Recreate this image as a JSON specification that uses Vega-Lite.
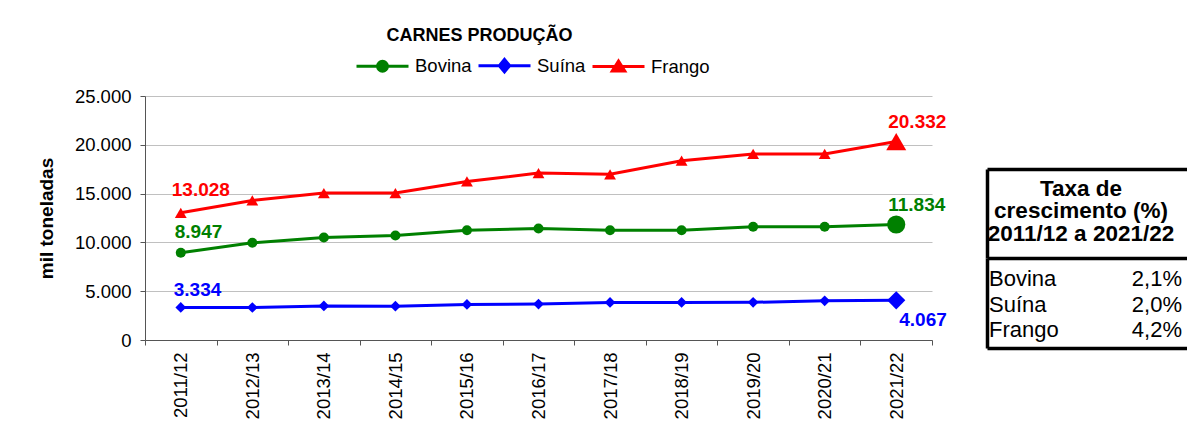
{
  "$schema": "https://vega.github.io/schema/vega-lite/v6.json",
  "padding": {"left": 37, "top": 27, "right": 0, "bottom": 0},
  "spacing": 55,
  "bounds": "flush",
  "hconcat": [
    {
      "width": 787,
      "height": 244,
      "view": {"stroke": null},
      "title": {"text": "CARNES PRODUÇÃO", "fontSize": 18, "fontWeight": "bold", "color": "#000", "anchor": "middle", "frame": "group", "dx": -59, "offset": 42},
      "data": {"values": [
        {"ano": "2011/12", "serie": "Bovina", "valor": 8947},
        {"ano": "2012/13", "serie": "Bovina", "valor": 9960},
        {"ano": "2013/14", "serie": "Bovina", "valor": 10500},
        {"ano": "2014/15", "serie": "Bovina", "valor": 10700},
        {"ano": "2015/16", "serie": "Bovina", "valor": 11250},
        {"ano": "2016/17", "serie": "Bovina", "valor": 11430},
        {"ano": "2017/18", "serie": "Bovina", "valor": 11250},
        {"ano": "2018/19", "serie": "Bovina", "valor": 11250},
        {"ano": "2019/20", "serie": "Bovina", "valor": 11600},
        {"ano": "2020/21", "serie": "Bovina", "valor": 11600},
        {"ano": "2021/22", "serie": "Bovina", "valor": 11834},
        {"ano": "2011/12", "serie": "Suína", "valor": 3334},
        {"ano": "2012/13", "serie": "Suína", "valor": 3330},
        {"ano": "2013/14", "serie": "Suína", "valor": 3490},
        {"ano": "2014/15", "serie": "Suína", "valor": 3470},
        {"ano": "2015/16", "serie": "Suína", "valor": 3650},
        {"ano": "2016/17", "serie": "Suína", "valor": 3680},
        {"ano": "2017/18", "serie": "Suína", "valor": 3850},
        {"ano": "2018/19", "serie": "Suína", "valor": 3850},
        {"ano": "2019/20", "serie": "Suína", "valor": 3860},
        {"ano": "2020/21", "serie": "Suína", "valor": 4020},
        {"ano": "2021/22", "serie": "Suína", "valor": 4067},
        {"ano": "2011/12", "serie": "Frango", "valor": 13028},
        {"ano": "2012/13", "serie": "Frango", "valor": 14300},
        {"ano": "2013/14", "serie": "Frango", "valor": 15060},
        {"ano": "2014/15", "serie": "Frango", "valor": 15060},
        {"ano": "2015/16", "serie": "Frango", "valor": 16250},
        {"ano": "2016/17", "serie": "Frango", "valor": 17100},
        {"ano": "2017/18", "serie": "Frango", "valor": 16980},
        {"ano": "2018/19", "serie": "Frango", "valor": 18370},
        {"ano": "2019/20", "serie": "Frango", "valor": 19060},
        {"ano": "2020/21", "serie": "Frango", "valor": 19060},
        {"ano": "2021/22", "serie": "Frango", "valor": 20332}
      ]},
      "encoding": {
        "x": {
          "field": "ano", "type": "ordinal", "sort": null,
          "scale": {"type": "band", "paddingInner": 0, "paddingOuter": 0},
          "axis": {"title": null, "labelAngle": 270, "labelFontSize": 18.5, "labelColor": "#000", "tickBand": "extent", "tickSize": 5, "labelPadding": 7, "domainColor": "#555", "tickColor": "#555", "grid": false}
        },
        "y": {
          "field": "valor", "type": "quantitative",
          "scale": {"domain": [0, 25000]},
          "axis": {"values": [0, 5000, 10000, 15000, 20000, 25000], "format": ",.0f", "title": "mil toneladas", "titleFontSize": 19, "titleFontWeight": "bold", "titleColor": "#000", "titlePadding": 18, "labelFontSize": 18.5, "labelColor": "#000", "labelPadding": 9, "tickSize": 5, "tickColor": "#555", "domainColor": "#555", "gridColor": "#c0c0c0", "grid": true}
        },
        "color": {
          "field": "serie", "type": "nominal",
          "scale": {"domain": ["Bovina", "Suína", "Frango"], "range": ["#008000", "#0000ff", "#ff0000"]},
          "legend": null
        }
      },
      "layer": [
        {
          "mark": {"type": "line", "strokeWidth": 3},
          "encoding": {
            "color": {
              "field": "serie", "type": "nominal",
              "scale": {"domain": ["Bovina", "Suína", "Frango"], "range": ["#008000", "#0000ff", "#ff0000"]},
              "legend": {
                "orient": "none", "legendX": 210, "legendY": -58, "padding": 0,
                "direction": "horizontal", "title": null,
                "labelFontSize": 18.5, "labelColor": "#000",
                "symbolSize": 2704, "symbolStrokeWidth": 3,
                "labelOffset": 5, "columnPadding": 0,
                "encode": {"symbols": {"update": {
                  "shape": {"signal": "datum.value === 'Bovina' ? 'M-1,0H1M0.19,0A0.19,0.19,0,1,1,-0.19,0A0.19,0.19,0,1,1,0.19,0Z' : datum.value === 'Frango' ? 'M-1,0H1M0,-0.21L0.24,0.17L-0.24,0.17Z' : 'M-1,0H1M0,-0.24L0.2,0L0,0.24L-0.2,0Z'"},
                  "fill": {"scale": "color", "field": "value"},
                  "stroke": {"scale": "color", "field": "value"},
                  "opacity": {"value": 1}
                }}}
              }
            }
          }
        },
        {
          "transform": [{"filter": "datum.serie === 'Bovina'"}],
          "mark": {"type": "point", "filled": true, "shape": "circle", "opacity": 1},
          "encoding": {"size": {"condition": {"test": "datum.ano === '2021/22'", "value": 330}, "value": 100}}
        },
        {
          "transform": [{"filter": "datum.serie === 'Suína'"}],
          "mark": {"type": "point", "filled": true, "shape": "diamond", "opacity": 1},
          "encoding": {"size": {"condition": {"test": "datum.ano === '2021/22'", "value": 330}, "value": 115}}
        },
        {
          "transform": [{"filter": "datum.serie === 'Frango'"}],
          "mark": {"type": "point", "filled": true, "shape": "triangle-up", "opacity": 1},
          "encoding": {"size": {"condition": {"test": "datum.ano === '2021/22'", "value": 400}, "value": 140}}
        },
        {
          "transform": [{"filter": "datum.ano === '2011/12' && datum.serie === 'Frango'"}],
          "mark": {"type": "text", "align": "left", "baseline": "alphabetic", "dx": -9, "dy": -17, "fontSize": 19, "fontWeight": "bold"},
          "encoding": {"text": {"field": "valor", "format": ",.0f"}}
        },
        {
          "transform": [{"filter": "datum.ano === '2011/12' && datum.serie === 'Bovina'"}],
          "mark": {"type": "text", "align": "left", "baseline": "alphabetic", "dx": -6, "dy": -15, "fontSize": 19, "fontWeight": "bold"},
          "encoding": {"text": {"field": "valor", "format": ",.0f"}}
        },
        {
          "transform": [{"filter": "datum.ano === '2011/12' && datum.serie === 'Suína'"}],
          "mark": {"type": "text", "align": "left", "baseline": "alphabetic", "dx": -7, "dy": -11, "fontSize": 19, "fontWeight": "bold"},
          "encoding": {"text": {"field": "valor", "format": ",.0f"}}
        },
        {
          "transform": [{"filter": "datum.ano === '2021/22' && datum.serie !== 'Suína'"}],
          "mark": {"type": "text", "align": "left", "baseline": "alphabetic", "dx": -8, "dy": -14, "fontSize": 19, "fontWeight": "bold"},
          "encoding": {"text": {"field": "valor", "format": ",.0f"}}
        },
        {
          "transform": [{"filter": "datum.ano === '2021/22' && datum.serie === 'Suína'"}],
          "mark": {"type": "text", "align": "left", "baseline": "alphabetic", "dx": 3, "dy": 26, "fontSize": 19, "fontWeight": "bold"},
          "encoding": {"text": {"field": "valor", "format": ",.0f"}}
        }
      ]
    },
    {
      "vconcat": [
        {
          "width": 200,
          "height": 73,
          "view": {"stroke": null},
          "data": {"values": [{}]},
          "mark": {"type": "text"},
          "encoding": {}
        },
        {
          "width": 200,
          "height": 89,
          "view": {"stroke": null},
          "data": {"values": [{"cabecalho": ["Taxa de", "crescimento (%)", "2011/12 a 2021/22"]}]},
          "mark": {"type": "text", "fontSize": 22.5, "fontWeight": "bold", "lineHeight": 22.5, "baseline": "middle", "align": "center", "dx": -6, "dy": -25, "color": "#000"},
          "encoding": {
            "text": {"field": "cabecalho"},
            "x": {"datum": 0.5, "type": "quantitative", "scale": {"domain": [0, 1]}, "axis": {"orient": "top", "domain": true, "domainColor": "#000", "domainWidth": 3.5, "ticks": false, "labels": false, "grid": false, "title": null}},
            "y": {"datum": 0.5, "type": "quantitative", "scale": {"domain": [0, 1]}, "axis": {"orient": "left", "domain": true, "domainColor": "#000", "domainWidth": 3.5, "ticks": false, "labels": false, "grid": false, "title": null}}
          }
        },
        {
          "width": 200,
          "height": 90,
          "view": {"stroke": null},
          "data": {"values": [
            {"serie": "Bovina", "taxa": 0.021},
            {"serie": "Suína", "taxa": 0.020},
            {"serie": "Frango", "taxa": 0.042}
          ]},
          "encoding": {
            "y": {"field": "serie", "type": "nominal", "sort": null, "scale": {"type": "band", "paddingInner": 0, "paddingOuter": 0.24}, "axis": {"orient": "left", "domain": true, "domainColor": "#000", "domainWidth": 3.5, "ticks": false, "labels": false, "grid": false, "title": null}}
          },
          "layer": [
            {
              "mark": {"type": "text", "align": "left", "baseline": "middle", "fontSize": 22, "dx": 2, "dy": 1.5, "color": "#000"},
              "encoding": {
                "text": {"field": "serie"},
                "x": {"datum": 0, "type": "quantitative", "scale": {"domain": [0, 1]}, "axis": {"orient": "top", "domain": true, "domainColor": "#000", "domainWidth": 3.5, "ticks": false, "labels": false, "grid": false, "title": null}}
              }
            },
            {
              "mark": {"type": "text", "align": "right", "baseline": "middle", "fontSize": 22, "dx": -5, "dy": 1.5, "color": "#000"},
              "encoding": {
                "text": {"field": "taxa", "format": ".1%"},
                "x": {"datum": 1, "type": "quantitative", "scale": {"domain": [0, 1]}, "axis": {"orient": "bottom", "domain": true, "domainColor": "#000", "domainWidth": 3.5, "ticks": false, "labels": false, "grid": false, "title": null}}
              }
            }
          ],
          "resolve": {"axis": {"x": "independent"}}
        }
      ],
      "spacing": 0,
      "bounds": "flush"
    }
  ],
  "config": {
    "font": "Liberation Sans",
    "locale": {"number": {"decimal": ",", "thousands": ".", "grouping": [3], "currency": ["R$", ""]}},
    "view": {"stroke": null}
  }
}
